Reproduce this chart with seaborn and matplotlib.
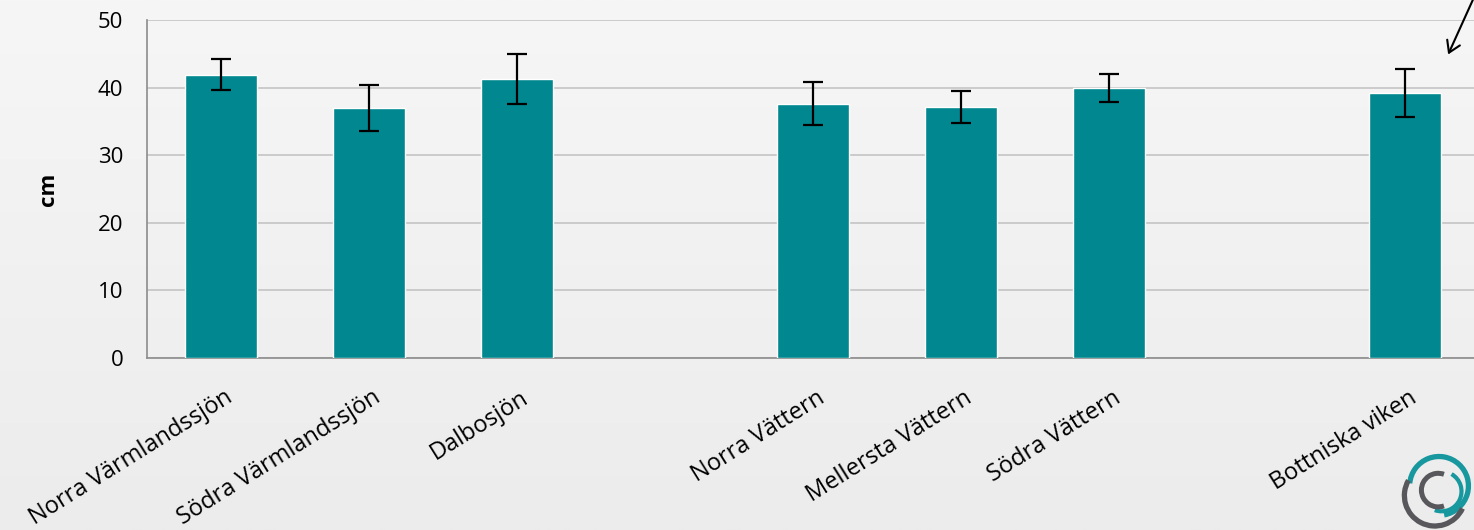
import numpy as np
import pandas as pd
import matplotlib
matplotlib.use("Agg")
import matplotlib.pyplot as plt
import matplotlib.transforms as mtransforms
from matplotlib.patches import Arc
import seaborn as sns

# data (cm), blanks are empty gaps in the chart
categories = ["Norra Värmlandssjön", "Södra Värmlandssjön", "Dalbosjön", " ",
              "Norra Vättern", "Mellersta Vättern", "Södra Vättern", "  ",
              "Bottniska viken"]
sites = ["Norra Värmlandssjön", "Södra Värmlandssjön", "Dalbosjön",
         "Norra Vättern", "Mellersta Vättern", "Södra Vättern", "Bottniska viken"]
mean_cm = [41.9, 37.0, 41.3, 37.6, 37.1, 39.9, 39.2]
err_cm = [2.3, 3.4, 3.7, 3.2, 2.4, 2.1, 3.5]
y_ticks = [0, 10, 20, 30, 40, 50]

bar_color = "#00878F"
grid_color = "#c4c4c4"

sns.set_theme(style="white")
plt.rcParams["font.family"] = ["Open Sans", "DejaVu Sans"]

df = pd.DataFrame({"site": sites, "cm": mean_cm, "err": err_cm})

fig = plt.figure(figsize=(14.74, 5.30), dpi=100)

# soft grey background
bg = fig.add_axes([0, 0, 1, 1], zorder=-10)
grad = np.linspace(0, 1, 256).reshape(-1, 1)
bg.imshow(grad, aspect="auto", cmap=matplotlib.colors.LinearSegmentedColormap.from_list(
    "bg", ["#f6f6f6", "#ececec"]), extent=[0, 1, 0, 1])
bg.axis("off")

ax = fig.add_axes([147 / 1474, 1 - 358 / 530, 1332 / 1474, 338 / 530])
ax.set_facecolor("none")

sns.barplot(data=df, x="site", y="cm", order=categories, color=bar_color,
            width=0.49, saturation=1, errorbar=None, ax=ax, zorder=3)

pos = [categories.index(s) for s in sites]
ax.errorbar(pos, df["cm"], yerr=df["err"], fmt="none", ecolor="black",
            elinewidth=1.6, capsize=7, capthick=1.6, zorder=4)

ax.set_ylim(0, 50)
ax.set_xlim(-0.5, len(categories) - 0.5)
ax.set_yticks(y_ticks)
ax.yaxis.grid(True, color=grid_color, linewidth=1.2, zorder=0)
ax.set_axisbelow(True)

for s in ["top", "right"]:
    ax.spines[s].set_visible(False)
for s in ["left", "bottom"]:
    ax.spines[s].set_color("#8c8c8c")
    ax.spines[s].set_linewidth(1.2)

# Excel style: tick marks between categories, labels centred
ax.set_xticks(np.arange(-0.5, len(categories), 1.0), minor=True)
ax.tick_params(axis="x", which="minor", length=7, color="#8c8c8c", width=1.2)
ax.tick_params(axis="x", which="major", length=0, pad=20)
ax.tick_params(axis="y", length=6, color="#8c8c8c", width=1.2, pad=11,
               labelsize=16, labelcolor="black")
ax.set_xticks(range(len(categories)))
ax.set_xticklabels(categories, rotation=32, ha="right", va="top",
                   rotation_mode="anchor", fontsize=17, color="black")
shift = mtransforms.ScaledTranslation(3 / 100, 0, fig.dpi_scale_trans)
for lab in ax.get_xticklabels():
    lab.set_transform(lab.get_transform() + shift)
ax.set_xlabel("")
ax.set_ylabel("cm", fontsize=16, fontweight="bold", color="black", labelpad=28)

# arrow in top right corner
fig.add_artist(matplotlib.patches.FancyArrowPatch(
    (1.0, 1.005), (1447 / 1474, 1 - 57 / 530), transform=fig.transFigure,
    arrowstyle="->,head_length=8,head_width=5", color="black", linewidth=1.5))

# logo, bottom right
logo = fig.add_axes([1392 / 1474, 0, 84 / 1474, 84 / 530])
logo.set_xlim(-1, 1)
logo.set_ylim(-1, 1)
logo.set_aspect("equal")
logo.axis("off")
logo.add_patch(Arc((0.12, 0.05), 1.4, 1.4, theta1=-80, theta2=175,
                   color="#17979e", linewidth=3.8))
logo.add_patch(Arc((0.18, -0.08), 0.95, 0.95, theta1=-110, theta2=60,
                   color="#17979e", linewidth=3.0))
logo.add_patch(Arc((0.02, -0.18), 1.45, 1.45, theta1=150, theta2=335,
                   color="#58585c", linewidth=3.8))
logo.add_patch(Arc((0.1, -0.05), 0.8, 0.8, theta1=70, theta2=290,
                   color="#58585c", linewidth=3.6))

fig.savefig("out.png", dpi=100)
